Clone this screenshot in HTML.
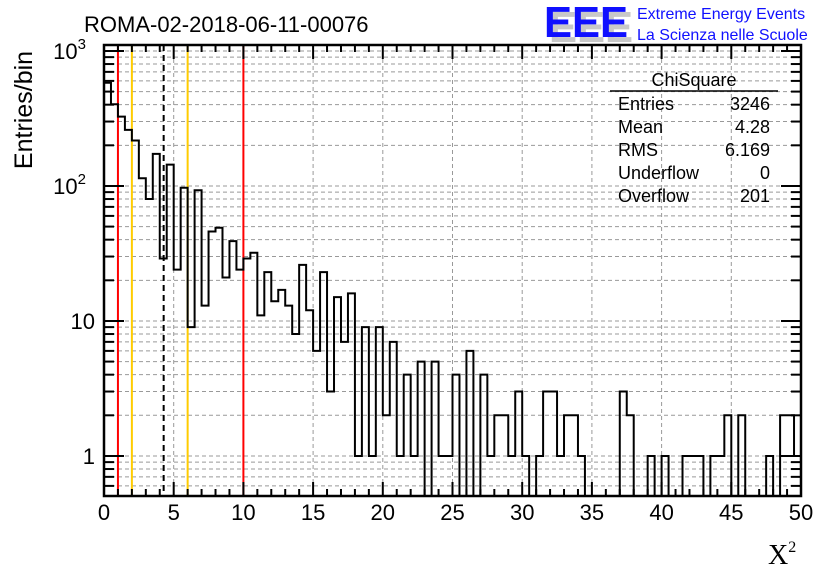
<!DOCTYPE html>
<html><head><meta charset="utf-8"><style>
body{margin:0;background:#fff;}
svg{display:block;font-family:"Liberation Sans",sans-serif;}
</style></head><body>
<svg id="c" width="836" height="572" viewBox="0 0 836 572">
<rect width="836" height="572" fill="#fff"/>
<g id="grid"></g>
<g id="lines"></g>
<path id="hist" fill="none" stroke="#000" stroke-width="2"/>
<g id="axes"></g>
<text x="84" y="32" font-size="22">ROMA-02-2018-06-11-00076</text>
<g>
<text x="549" y="42" font-size="44" font-weight="bold" fill="#c8c8c8" textLength="84" lengthAdjust="spacingAndGlyphs">EEE</text>
<text x="544" y="37" font-size="44" font-weight="bold" fill="#1010ff" textLength="84" lengthAdjust="spacingAndGlyphs">EEE</text>
<text x="637" y="19" font-size="16" fill="#1010ff">Extreme Energy Events</text>
<text x="637" y="40" font-size="16" fill="#1010ff">La Scienza nelle Scuole</text>
</g>
<g font-size="18">
<text x="694" y="86" text-anchor="middle">ChiSquare</text>
<line x1="610" y1="91" x2="778" y2="91" stroke="#000" stroke-width="1.5"/>
<text x="618" y="110">Entries</text><text x="770" y="110" text-anchor="end">3246</text>
<text x="618" y="133">Mean</text><text x="770" y="133" text-anchor="end">4.28</text>
<text x="618" y="156">RMS</text><text x="770" y="156" text-anchor="end">6.169</text>
<text x="618" y="179">Underflow</text><text x="770" y="179" text-anchor="end">0</text>
<text x="618" y="202">Overflow</text><text x="770" y="202" text-anchor="end">201</text>
</g>
<text transform="translate(32,110) rotate(-90)" text-anchor="middle" font-size="25">Entries/bin</text>
<text x="768" y="564" font-size="28" font-family="Liberation Serif,serif">X<tspan font-size="16" dy="-12">2</tspan></text>
</svg>
<script>
const counts=[582,403,326,260,217,114,80,173,29,144,24,97,9,93,13,46,49,21,39,24,
29,32,11,23,14,17,13,8,26,12,6,23,3,15,7,16,1,9,1,9,
2,7,1,4,1,5,0,5,1,1,4,0,6,0,4,1,2,2,1,3,
1,0,1,3,3,1,2,2,1,0,0,0,0,0,3,2,0,0,1,0,
1,0,0,1,1,1,0,1,1,2,0,2,0,0,0,1,0,2,2,1];
const refX=[1,2,4.28,6,10];
const refColors=['#ff0000','#ffcc00','#000','#ffcc00','#ff0000'];
const xTicks=[0,5,10,15,20,25,30,35,40,45,50];
const yTicks=[1,10,100,1000];
const yTickLabels=['1','10','10','10'];
const yTickSup=['','','2','3'];

const X0=104,X1=801,Y0=45,Y1=496,YMIN=0.505,YMAX=1107,BW=0.5;
const sx=v=>X0+(v/50)*(X1-X0);
const L=Math.log10;
const sy=v=>{if(v<YMIN)v=YMIN;return Y1-(L(v)-L(YMIN))/(L(YMAX)-L(YMIN))*(Y1-Y0);};
const NS='http://www.w3.org/2000/svg';
function mk(t,a,p){const e=document.createElementNS(NS,t);for(const k in a)e.setAttribute(k,a[k]);p.appendChild(e);return e;}
const grid=document.getElementById('grid'),axes=document.getElementById('axes'),lines=document.getElementById('lines');
xTicks.forEach(t=>{if(t>0&&t<50){const e=mk('line',{x1:sx(t),x2:sx(t),y1:Y0,y2:Y1,stroke:'#999','stroke-dasharray':'4,3'},grid);

}});
for(let d=0.1;d<=1000;d*=10){for(let m=1;m<10;m++){const v=Math.round(d*m*10)/10;if(v<YMIN||v>YMAX)continue;const y=sy(v);
const e=mk('line',{x1:X0,x2:X1,y1:y,y2:y,stroke:'#999','stroke-dasharray':'4,3'},grid);


const tl=(m===1)?20:10;
mk('line',{x1:X0,x2:X0+tl,y1:y,y2:y,stroke:'#000','stroke-width':2},axes);
mk('line',{x1:X1-tl,x2:X1,y1:y,y2:y,stroke:'#000','stroke-width':2},axes);}}
refX.forEach((v,i)=>{const e=mk('line',{x1:sx(v),x2:sx(v),y1:Y0,y2:Y1,stroke:refColors[i],'stroke-width':2},lines);
if(i===2)e.setAttribute('stroke-dasharray','6,4');

});
let d='';
counts.forEach((c,i)=>{const xa=sx(i*BW),xb=sx((i+1)*BW),y=sy(c);d+=(i===0?'M'+xa+','+Y1+' L'+xa+','+y:' L'+xa+','+y)+' L'+xb+','+y;});
d+=' L'+X1+','+Y1;
document.getElementById('hist').setAttribute('d',d);
const fr=mk('rect',{x:X0,y:Y0,width:X1-X0,height:Y1-Y0,fill:'none',stroke:'#000','stroke-width':2.5},axes);


for(let t=0;t<=50;t++){const x=sx(t),tl=t%5===0?14:7;
mk('line',{x1:x,x2:x,y1:Y1,y2:Y1-tl,stroke:'#000','stroke-width':2},axes);
mk('line',{x1:x,x2:x,y1:Y0,y2:Y0+tl,stroke:'#000','stroke-width':2},axes);}
xTicks.forEach(t=>{const e=mk('text',{x:sx(t),y:520,'font-size':22,'text-anchor':'middle'},axes);e.textContent=t;

});
yTicks.forEach((t,i)=>{const y=sy(t);const e=mk('text',{x:yTickSup[i]?86:95,y:y+8,'font-size':22,'text-anchor':'end'},axes);e.textContent=yTickLabels[i];
if(yTickSup[i]){const s=mk('tspan',{dy:-10,'font-size':15},e);s.textContent=yTickSup[i];}

});
</script>
</body></html>
